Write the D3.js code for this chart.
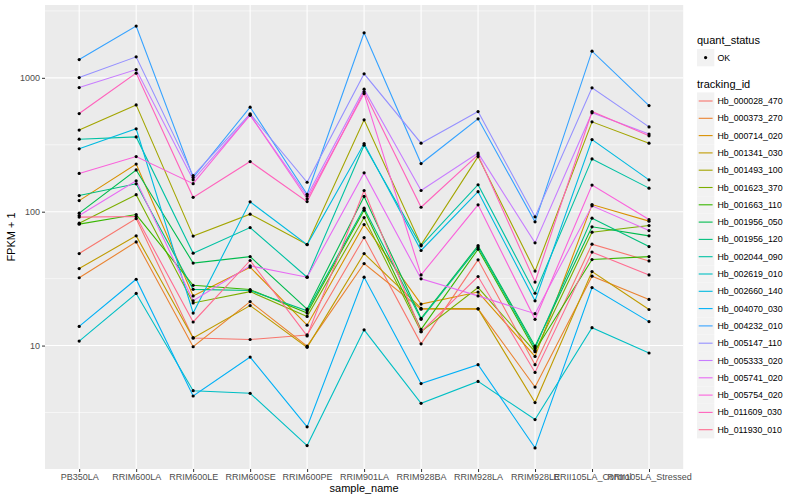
<!DOCTYPE html>
<html>
<head>
<meta charset="utf-8">
<script src="https://cdn.jsdelivr.net/npm/d3@7/dist/d3.min.js"></script>
<style>
  body { margin: 0; background: #fff; }
  text { font-family: "Liberation Sans", Arial, Helvetica, sans-serif; }
</style>
</head>
<body>
<div id="chart"></div>
<script>
const samples = ["PB350LA", "RRIM600LA", "RRIM600LE", "RRIM600SE", "RRIM600PE", "RRIM901LA",
  "RRIM928BA", "RRIM928LA", "RRIM928LE", "RRII105LA_Control", "RRII105LA_Stressed"];

const trackingIds = ["Hb_000028_470", "Hb_000373_270", "Hb_000714_020", "Hb_001341_030",
  "Hb_001493_100", "Hb_001623_370", "Hb_001663_110", "Hb_001956_050", "Hb_001956_120",
  "Hb_002044_090", "Hb_002619_010", "Hb_002660_140", "Hb_004070_030", "Hb_004232_010",
  "Hb_005147_110", "Hb_005333_020", "Hb_005741_020", "Hb_005754_020", "Hb_011609_030",
  "Hb_011930_010"];

// FPKM + 1, one value per sample
const hb_000028_470 = [48.7, 88.9, 11.4, 11.1, 12.0, 64.1, 10.3, 43.7, 7.2, 57.2, 42.9];
const hb_000373_270 = [32.1, 59.5, 9.8, 21.3, 9.9, 41, 18.7, 18.8, 4.9, 33, 22.1];
const hb_000714_020 = [121, 227, 23.5, 38.5, 14.2, 80.2, 20.4, 25.1, 8.3, 113, 85];
const hb_001341_030 = [37.6, 66, 11.4, 19.9, 9.7, 48.7, 19.0, 18.8, 3.75, 35.7, 18.6];
const hb_001493_100 = [407, 628, 65.7, 95.9, 56.8, 486, 56.5, 258, 36, 469, 325];
const hb_001623_370 = [82.1, 134, 20.8, 25.3, 16.5, 90.4, 12.7, 27.1, 9.0, 70.3, 78.8];
const hb_001663_110 = [80.7, 95.2, 28.2, 26.2, 17.5, 102.7, 13.2, 52.5, 9.2, 43.9, 46.2];
const hb_001956_050 = [97.5, 205, 41.3, 46.2, 18.7, 130, 16.0, 55.8, 9.9, 77.1, 66];
const hb_001956_120 = [132, 161.5, 26.3, 25.8, 18.2, 106.3, 15.7, 54.4, 9.6, 89.5, 54.9];
const hb_002044_090 = [348, 362, 49, 76.1, 32.4, 314, 55.6, 159, 24.6, 248, 150];
const hb_002619_010 = [10.8, 24.5, 4.6, 4.4, 1.79, 13.1, 3.7, 5.4, 2.8, 13.6, 8.8];
const hb_002660_140 = [295, 416, 17.5, 118.5, 56.8, 323, 51.3, 141, 21.6, 346, 173];
const hb_004070_030 = [13.9, 31.3, 4.2, 8.2, 2.47, 32.4, 5.2, 7.2, 1.72, 27.1, 15.1];
const hb_004232_010 = [1370, 2435, 180, 604, 135, 2170, 229, 494, 84, 1583, 621];
const hb_005147_110 = [1005, 1435, 186, 538, 166, 1072, 325, 560, 91.5, 842, 430];
const hb_005333_020 = [846, 1153, 173, 526, 131, 823, 144, 274, 58.5, 548, 380];
const hb_005741_020 = [93.6, 170, 21.6, 39.4, 32.4, 195, 31.5, 23.5, 17.3, 110.6, 72.3];
const hb_005754_020 = [193, 258, 162, 529, 125, 763, 33.7, 112.5, 15.7, 158, 87.4];
const hb_011609_030 = [541, 1084, 128, 237, 119, 786, 108, 266, 29.8, 560, 369];
const hb_011930_010 = [91.1, 92, 15.0, 43.2, 11.8, 144, 12.7, 32.8, 6.3, 49.9, 33.7];

const yTicks = [10, 100, 1000];
const quantStatus = ["OK"];

// ggplot2 default hue palette for 20 levels
const hue20 = ["#F8766D", "#EA8331", "#D89000", "#C09B00", "#A3A500", "#7CAE00", "#39B600",
  "#00BB4E", "#00BF7D", "#00C1A3", "#00BFC4", "#00BAE0", "#00B0F6", "#35A2FF", "#9590FF",
  "#C77CFF", "#E76BF3", "#FA62DB", "#FF62BC", "#FF6C91"];

const seriesValues = [hb_000028_470, hb_000373_270, hb_000714_020, hb_001341_030, hb_001493_100,
  hb_001623_370, hb_001663_110, hb_001956_050, hb_001956_120, hb_002044_090, hb_002619_010,
  hb_002660_140, hb_004070_030, hb_004232_010, hb_005147_110, hb_005333_020, hb_005741_020,
  hb_005754_020, hb_011609_030, hb_011930_010];

const series = trackingIds.map((id, i) => ({
  id,
  values: samples.map((s, j) => ({ sample: s, value: seriesValues[i][j] }))
}));

const width = 800, height = 500;
const panel = { left: 45, right: 683.2, top: 5, bottom: 469 };

const svg = d3.select("#chart").append("svg")
  .attr("width", width).attr("height", height);

const x = d3.scalePoint().domain(samples)
  .range([panel.left, panel.right]).padding(0.6);

// log extent expanded by 5% each side, like ggplot
const all = seriesValues.flat();
const lo = Math.log10(d3.min(all)), hi = Math.log10(d3.max(all));
const pad = (hi - lo) * 0.05;
const y = d3.scaleLog().domain([10 ** (lo - pad), 10 ** (hi + pad)])
  .range([panel.bottom, panel.top]);

const color = d3.scaleOrdinal().domain(trackingIds).range(hue20);

// panel background
svg.append("rect")
  .attr("x", panel.left).attr("y", panel.top)
  .attr("width", panel.right - panel.left).attr("height", panel.bottom - panel.top)
  .attr("fill", "#EBEBEB");

// grid
const grid = svg.append("g").attr("stroke", "#fff").attr("fill", "none");
const minor = [0.5, 1.5, 2.5, 3.5].map(e => 10 ** e).filter(v => v > y.domain()[0] && v < y.domain()[1]);
grid.selectAll("line.minor").data(minor).join("line")
  .attr("x1", panel.left).attr("x2", panel.right)
  .attr("y1", d => y(d)).attr("y2", d => y(d))
  .attr("stroke-width", 0.55);
grid.selectAll("line.majy").data(yTicks).join("line")
  .attr("x1", panel.left).attr("x2", panel.right)
  .attr("y1", d => y(d)).attr("y2", d => y(d))
  .attr("stroke-width", 1.1);
grid.selectAll("line.majx").data(samples).join("line")
  .attr("x1", d => x(d)).attr("x2", d => x(d))
  .attr("y1", panel.top).attr("y2", panel.bottom)
  .attr("stroke-width", 1.1);

// axes
const xAxis = svg.append("g")
  .attr("transform", `translate(0,${panel.bottom})`)
  .call(d3.axisBottom(x).tickSize(3).tickPadding(2));
const yAxis = svg.append("g")
  .attr("transform", `translate(${panel.left},0)`)
  .call(d3.axisLeft(y).tickValues(yTicks).tickFormat(d3.format("d")).tickSize(3).tickPadding(2));
[xAxis, yAxis].forEach(a => {
  a.select(".domain").remove();
  a.selectAll(".tick line").attr("stroke", "#333333");
  a.selectAll(".tick text").attr("fill", "#4D4D4D").attr("font-size", 9)
    .style("font-family", "'Liberation Sans', Arial, sans-serif");
});

svg.append("text")
  .attr("x", (panel.left + panel.right) / 2).attr("y", 492)
  .attr("text-anchor", "middle").attr("font-size", 11).text("sample_name");
svg.append("text")
  .attr("transform", `translate(15,${(panel.top + panel.bottom) / 2}) rotate(-90)`)
  .attr("text-anchor", "middle").attr("font-size", 11).text("FPKM + 1");

// lines
const line = d3.line().x(d => x(d.sample)).y(d => y(d.value));
svg.append("g").attr("fill", "none").attr("stroke-width", 1.1)
  .selectAll("path").data(series).join("path")
  .attr("stroke", d => color(d.id))
  .attr("d", d => line(d.values));

// points
svg.append("g").attr("fill", "#000")
  .selectAll("circle").data(series.flatMap(s => s.values)).join("circle")
  .attr("cx", d => x(d.sample)).attr("cy", d => y(d.value)).attr("r", 1.6);

// legends
const lg = svg.append("g").attr("transform", "translate(697,0)");
lg.append("text").attr("x", 0).attr("y", 44).attr("font-size", 11).text("quant_status");
const qk = lg.selectAll("g.q").data(quantStatus).join("g")
  .attr("transform", (d, i) => `translate(0,${49 + i * 17.3})`);
qk.append("rect").attr("width", 17.3).attr("height", 17.3).attr("fill", "#F2F2F2");
qk.append("circle").attr("cx", 8.6).attr("cy", 8.6).attr("r", 1.6).attr("fill", "#000");
qk.append("text").attr("x", 20.5).attr("y", 8.6).attr("dy", "0.35em")
  .attr("font-size", 8.8).text(d => d);

lg.append("text").attr("x", 0).attr("y", 88).attr("font-size", 11).text("tracking_id");
const tk = lg.selectAll("g.t").data(trackingIds).join("g")
  .attr("transform", (d, i) => `translate(0,${92.4 + i * 17.3})`);
tk.append("rect").attr("width", 17.3).attr("height", 17.3).attr("fill", "#F2F2F2");
tk.append("line").attr("x1", 1.7).attr("x2", 15.6).attr("y1", 8.6).attr("y2", 8.6)
  .attr("stroke", d => color(d)).attr("stroke-width", 1.1);
tk.append("text").attr("x", 20.5).attr("y", 8.6).attr("dy", "0.35em")
  .attr("font-size", 8.8).text(d => d);
</script>
</body>
</html>
